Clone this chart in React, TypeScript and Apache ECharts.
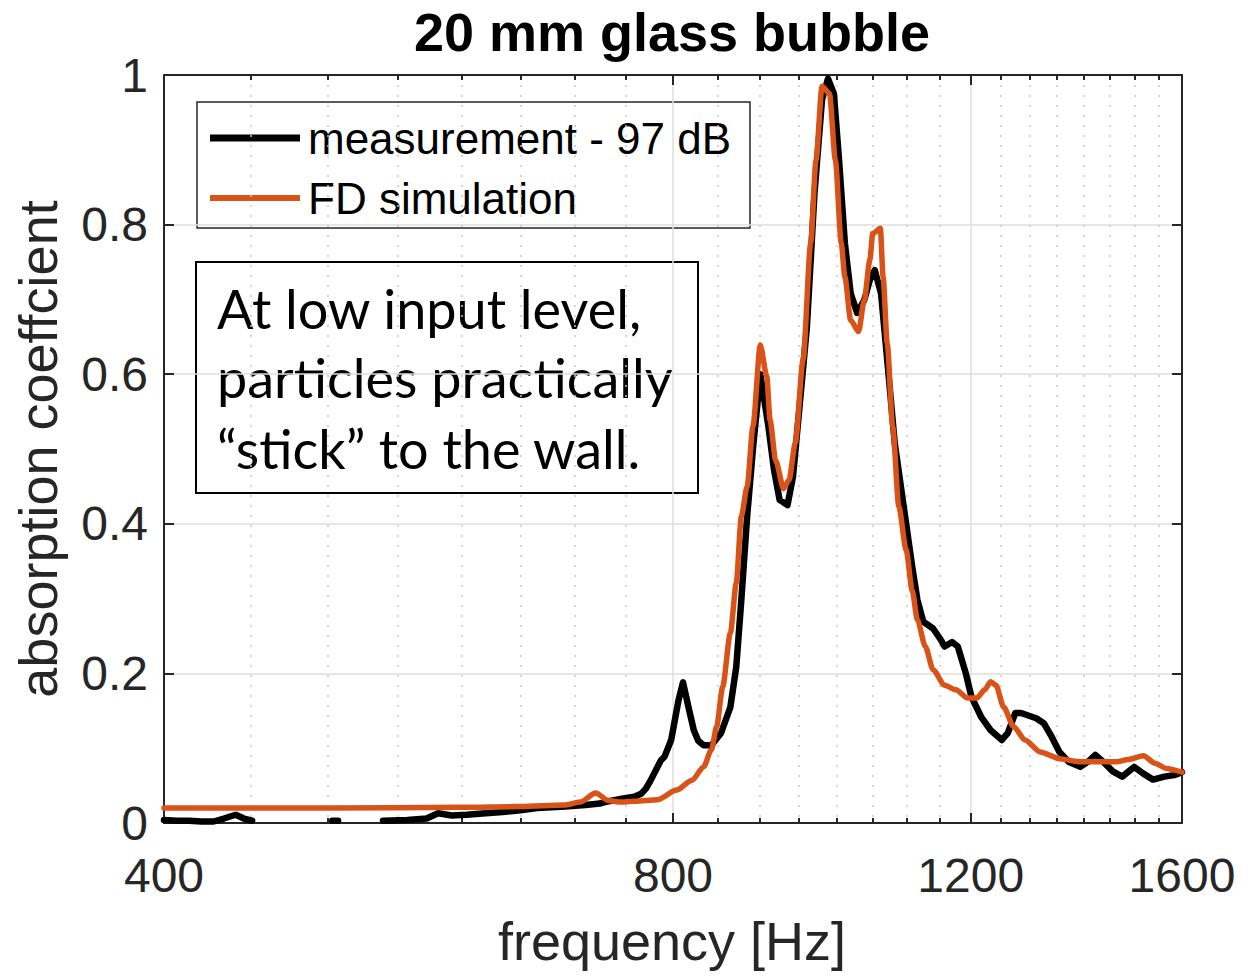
import React, { useEffect, useRef } from "react";
import * as echarts from "echarts";

// ---- data (frequency in Hz, absorption coefficient) ----
const measFreq = [
  400, 407, 414, 421, 428, 434, 441, 446, 451, 456,
  503, 507, 511,
  539, 557, 572, 581, 592, 604, 620, 637, 650, 665, 678, 691, 710, 724, 729, 749, 759, 766, 771, 776, 787, 791,
  798, 806, 811, 817, 823, 828, 834, 843, 854, 865, 872, 878, 885, 892, 901, 911, 918, 925, 935, 942, 950, 960,
  970, 980, 988, 996, 1003, 1011, 1019, 1028, 1038, 1046, 1053, 1062, 1071, 1082, 1095, 1108, 1116, 1125, 1140,
  1152, 1158, 1170, 1179, 1192, 1201, 1217, 1233, 1252, 1262, 1275, 1285, 1312, 1326, 1340, 1354, 1371, 1393,
  1408, 1422, 1437, 1456, 1475, 1499, 1518, 1538, 1562, 1583, 1600,
];
const measAbs: (number | null)[] = [
  0.004, 0.003, 0.003, 0.002, 0.002, 0.006, 0.011, 0.006, 0.003, null,
  0.003, 0.003, null,
  0.003, 0.004, 0.006, 0.013, 0.01, 0.011, 0.013, 0.015, 0.017, 0.02, 0.021, 0.022, 0.024, 0.026, 0.028, 0.033, 0.035, 0.039, 0.046, 0.057, 0.084, 0.089,
  0.111, 0.164, 0.188, 0.155, 0.124, 0.11, 0.104, 0.104, 0.12, 0.155, 0.209, 0.298, 0.41, 0.5, 0.6, 0.53, 0.472, 0.432, 0.425, 0.463, 0.552, 0.663,
  0.842, 0.967, 0.995, 0.975, 0.886, 0.775, 0.708, 0.682, 0.699, 0.726, 0.739, 0.708, 0.619, 0.508, 0.425, 0.343, 0.298, 0.269, 0.26,
  0.245, 0.236, 0.242, 0.236, 0.2, 0.169, 0.142, 0.124, 0.111, 0.12, 0.147, 0.147, 0.14, 0.133, 0.115, 0.095, 0.082, 0.075,
  0.082, 0.091, 0.082, 0.069, 0.062, 0.075, 0.066, 0.058, 0.062, 0.064, 0.068,
];

const simFreq = [
  400, 500, 600, 650, 690, 705, 720, 733, 743, 760, 783, 804, 821, 834, 843, 849, 856, 865, 872, 878, 885, 892,
  901, 909, 913, 920, 930, 937, 945, 955, 965, 972, 980, 990, 998, 1006, 1011, 1019, 1030, 1038, 1046, 1050,
  1061, 1065, 1071, 1079, 1088, 1099, 1108, 1116, 1128, 1140, 1158, 1176, 1195, 1210, 1223, 1233, 1242, 1255,
  1272, 1292, 1319, 1354, 1390, 1426, 1464, 1487, 1518, 1542, 1566, 1600,
];
const simAbs = [
  0.02, 0.02, 0.021, 0.022, 0.024, 0.028, 0.04, 0.03, 0.028, 0.029, 0.031, 0.044, 0.057, 0.075, 0.098, 0.129, 0.182, 0.254, 0.321, 0.41, 0.45, 0.53,
  0.639, 0.597, 0.539, 0.485, 0.447, 0.459, 0.508, 0.619, 0.775, 0.886, 0.985, 0.975, 0.886, 0.775, 0.73, 0.672, 0.657, 0.699, 0.753, 0.788,
  0.795, 0.73, 0.641, 0.53, 0.423, 0.365, 0.311, 0.271, 0.236, 0.205, 0.184, 0.178, 0.167, 0.167, 0.178, 0.189, 0.184, 0.155,
  0.129, 0.111, 0.095, 0.086, 0.082, 0.082, 0.082, 0.085, 0.09, 0.08, 0.073, 0.068,
];

const xMajorTicks = [400, 800, 1200, 1600];
const xMinorTicks = [450, 500, 550, 600, 650, 700, 750, 850, 900, 950, 1000, 1050, 1100, 1150, 1250, 1300, 1350, 1400, 1450, 1500, 1550];
const yMin = 0;
const yMax = 1;
const yStep = 0.2;

const titleText = "20 mm glass bubble";
const xTitle = "frequency [Hz]";
const yTitle = "absorption coeffcient";
const legendNames = ["measurement - 97 dB", "FD simulation"];
const noteLines = ["At low input level,", "particles practically", "\u201Cstick\u201D to the wall."];

const lg = (f: number) => Math.log10(f);

const AXIS_COLOR = "#262626";
const SANS = "Liberation Sans, Arial, sans-serif";

export default function App() {
  const ref = useRef<HTMLDivElement>(null);

  useEffect(() => {
    if (!ref.current) return;
    const chart = echarts.init(ref.current, undefined, { renderer: "svg" });

    const xMin = lg(400);
    const xMax = lg(1600);

    const baseX = {
      type: "value" as const,
      min: xMin,
      max: xMax,
      gridIndex: 0,
    };

    const option: any = {
      animation: false,
      backgroundColor: "#ffffff",
      grid: {
        left: 164,
        top: 75,
        right: 66,
        bottom: 157,
        containLabel: false,
        outerBoundsMode: "none",
      },
      xAxis: [
        {
          ...baseX,
          position: "bottom",
          axisLine: { show: true, onZero: false, lineStyle: { color: AXIS_COLOR, width: 2 } },
          axisTick: {
            show: true,
            inside: true,
            length: 10,
            customValues: xMajorTicks.map(lg),
            lineStyle: { color: AXIS_COLOR, width: 2 },
          },
          axisLabel: {
            show: true,
            customValues: xMajorTicks.map(lg),
            formatter: (v: number) => String(Math.round(Math.pow(10, v))),
            fontSize: 48,
            fontFamily: SANS,
            color: AXIS_COLOR,
            margin: 28,
          },
          splitLine: {
            show: true,
            customValues: xMajorTicks.map(lg),
            lineStyle: { color: "#dedede", width: 1.5 },
          },
        },
        {
          ...baseX,
          position: "bottom",
          axisLine: { show: false, onZero: false },
          axisTick: {
            show: true,
            inside: true,
            length: 5,
            customValues: xMinorTicks.map(lg),
            lineStyle: { color: AXIS_COLOR, width: 2 },
          },
          axisLabel: { show: false },
          splitLine: {
            show: true,
            customValues: xMinorTicks.map(lg),
            lineStyle: { color: "#c8c8c8", width: 1.5, type: [2, 8] },
          },
        },
        {
          ...baseX,
          position: "top",
          axisLine: { show: true, onZero: false, lineStyle: { color: AXIS_COLOR, width: 2 } },
          axisTick: {
            show: true,
            inside: true,
            length: 10,
            customValues: xMajorTicks.map(lg),
            lineStyle: { color: AXIS_COLOR, width: 2 },
          },
          axisLabel: { show: false },
          splitLine: { show: false },
        },
        {
          ...baseX,
          position: "top",
          axisLine: { show: false, onZero: false },
          axisTick: {
            show: true,
            inside: true,
            length: 5,
            customValues: xMinorTicks.map(lg),
            lineStyle: { color: AXIS_COLOR, width: 2 },
          },
          axisLabel: { show: false },
          splitLine: { show: false },
        },
      ],
      yAxis: [
        {
          type: "value",
          min: yMin,
          max: yMax,
          interval: yStep,
          position: "left",
          axisLine: { show: true, onZero: false, lineStyle: { color: AXIS_COLOR, width: 2 } },
          axisTick: { show: true, inside: true, length: 10, lineStyle: { color: AXIS_COLOR, width: 2 } },
          axisLabel: {
            fontSize: 48,
            fontFamily: SANS,
            color: AXIS_COLOR,
            margin: 16,
          },
          splitLine: { show: true, lineStyle: { color: "#dedede", width: 1.5 } },
        },
        {
          type: "value",
          min: yMin,
          max: yMax,
          interval: yStep,
          position: "right",
          axisLine: { show: true, onZero: false, lineStyle: { color: AXIS_COLOR, width: 2 } },
          axisTick: { show: true, inside: true, length: 10, lineStyle: { color: AXIS_COLOR, width: 2 } },
          axisLabel: { show: false },
          splitLine: { show: false },
        },
      ],
      series: [
        {
          type: "line",
          name: legendNames[0],
          xAxisIndex: 0,
          yAxisIndex: 0,
          data: measFreq.map((f, i) => [lg(f), measAbs[i] === null ? "-" : measAbs[i]]),
          showSymbol: false,
          symbol: "none",
          connectNulls: false,
          lineStyle: { color: "#000000", width: 6.5, join: "round", cap: "round" },
          itemStyle: { color: "#000000" },
          z: 3,
        },
        {
          type: "line",
          name: legendNames[1],
          xAxisIndex: 0,
          yAxisIndex: 0,
          data: simFreq.map((f, i) => [lg(f), simAbs[i]]),
          showSymbol: false,
          symbol: "none",
          smooth: 0.25,
          smoothMonotone: "x",
          lineStyle: { color: "#D95319", width: 5.5, join: "round", cap: "round" },
          itemStyle: { color: "#D95319" },
          z: 4,
        },
      ],
      graphic: [
        {
          type: "text",
          x: 672,
          y: 32,
          style: {
            text: titleText,
            fill: "#000000",
            font: `bold 54px ${SANS}`,
            textAlign: "center",
            textVerticalAlign: "middle",
          },
          z: 100,
        },
        {
          type: "text",
          x: 672,
          y: 941,
          style: {
            text: xTitle,
            fill: AXIS_COLOR,
            font: `54px ${SANS}`,
            textAlign: "center",
            textVerticalAlign: "middle",
          },
          z: 100,
        },
        {
          type: "text",
          x: 38,
          y: 449,
          rotation: Math.PI / 2,
          style: {
            text: yTitle,
            fill: AXIS_COLOR,
            font: `54px ${SANS}`,
            textAlign: "center",
            textVerticalAlign: "middle",
          },
          z: 100,
        },
        // legend
        {
          type: "group",
          z: 100,
          children: [
            {
              type: "rect",
              shape: { x: 197, y: 102, width: 553, height: 126 },
              style: { fill: "#ffffff", stroke: AXIS_COLOR, lineWidth: 1.5 },
            },
            {
              type: "line",
              shape: { x1: 210, y1: 138, x2: 300, y2: 138 },
              style: { stroke: "#000000", lineWidth: 7 },
            },
            {
              type: "line",
              shape: { x1: 210, y1: 198, x2: 300, y2: 198 },
              style: { stroke: "#D95319", lineWidth: 6 },
            },
            {
              type: "text",
              x: 308,
              y: 138,
              style: {
                text: legendNames[0],
                fill: "#000000",
                font: `44px ${SANS}`,
                textAlign: "left",
                textVerticalAlign: "middle",
              },
            },
            {
              type: "text",
              x: 308,
              y: 198,
              style: {
                text: legendNames[1],
                fill: "#000000",
                font: `44px ${SANS}`,
                textAlign: "left",
                textVerticalAlign: "middle",
              },
            },
          ],
        },
        // annotation box
        {
          type: "group",
          z: 100,
          children: [
            {
              type: "rect",
              shape: { x: 196, y: 262, width: 502, height: 231 },
              style: { fill: "#ffffff", stroke: "#000000", lineWidth: 2 },
            },
            ...noteLines.map((t, i) => ({
              type: "text",
              x: 217,
              y: [308, 377, 448][i],
              style: {
                text: t,
                fill: "#000000",
                font: `54px Lato, "Open Sans", sans-serif`,
                textAlign: "left",
                textVerticalAlign: "middle",
              },
            })),
          ],
        },
      ],
    };

    chart.setOption(option);
    return () => chart.dispose();
  }, []);

  return (
    <div
      ref={ref}
      style={{ position: "fixed", left: 0, top: 0, width: 1248, height: 980, background: "#ffffff" }}
    />
  );
}
